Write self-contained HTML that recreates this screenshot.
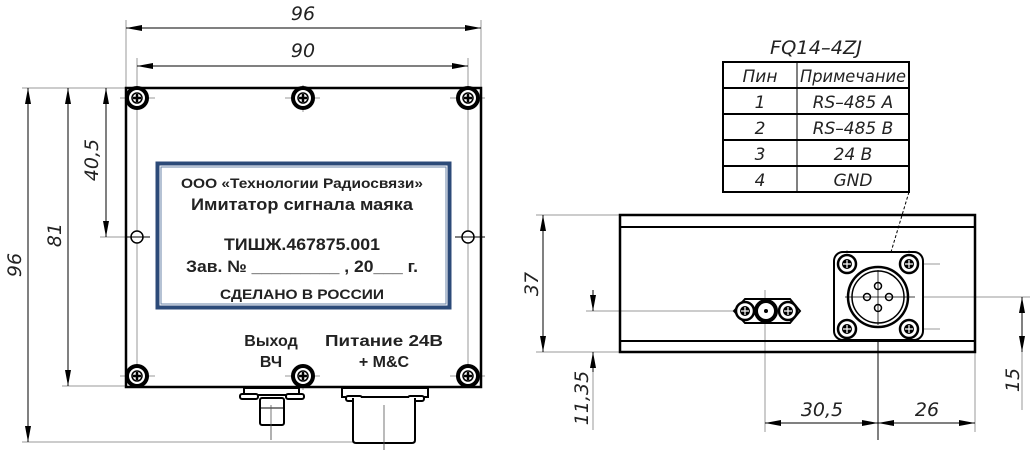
<!DOCTYPE html>
<html><head><meta charset="utf-8"><style>
html,body{margin:0;padding:0;background:#fff;}
svg{display:block;}
.d{font-family:"DejaVu Sans","Liberation Sans",sans-serif;font-style:italic;font-size:19px;fill:#222;font-weight:200}
.t{font-family:"DejaVu Sans","Liberation Sans",sans-serif;font-style:italic;font-size:17px;fill:#222;font-weight:200}
.b{font-family:"Liberation Sans",sans-serif;font-weight:bold;fill:#222;text-anchor:middle}
</style></head><body>
<svg width="1033" height="452" viewBox="0 0 1033 452" xmlns="http://www.w3.org/2000/svg">
<defs>
<g id="scr"><circle r="10" fill="#fff" stroke="#000" stroke-width="4"/><circle r="5" fill="#fff" stroke="#000" stroke-width="1.5"/><path d="M-4 0H4M0 -4V4" stroke="#000" stroke-width="2.5"/></g>
<g id="scr2"><circle r="9" fill="#fff" stroke="#000" stroke-width="2.5"/><circle r="5" fill="#000"/><path d="M-4 0H4M0 -4V4" stroke="#fff" stroke-width="1.2"/></g>
</defs>
<g stroke="#999" stroke-width="1" fill="none">
<path d="M126 20V88M481 20V88M137 58V385M468 58V385"/>
<path d="M22 88H126M62 88H126M22 442H360M62 386H126M100 237H150M455 237H485"/>
<path d="M120 98H155M285 98H320M450 98H485M120 376H155M285 376H320M450 376H485M303 85V112M303 365V390M271 410V440M384 435V450"/>
</g>
<g stroke="#000" stroke-width="1" fill="none">
<path d="M126 28H481M137 66H468M28 88V442M68 88V386M106 88V237"/>
</g>
<g fill="#000">
<path d="M126 28l16-3v6zM481 28l-16-3v6zM137 66l16-3v6zM468 66l-16-3v6z"/>
<path d="M28 88l-3 16h6zM28 442l-3-16h6zM68 88l-3 16h6zM68 386l-3-16h6zM106 88l-3 16h6zM106 237l-3-16h6z"/>
</g>
<text class="d" x="303" y="20" text-anchor="middle">96</text>
<text class="d" x="303" y="57" text-anchor="middle">90</text>
<text class="d" transform="translate(21,265) rotate(-90)" text-anchor="middle">96</text>
<text class="d" transform="translate(61,235) rotate(-90)" text-anchor="middle">81</text>
<text class="d" transform="translate(98,160) rotate(-90)" text-anchor="middle">40,5</text>
<rect x="126" y="88" width="355" height="299" fill="none" stroke="#000" stroke-width="2.5"/>
<use href="#scr" x="137" y="98"/><use href="#scr" x="303" y="98"/><use href="#scr" x="468" y="98"/>
<use href="#scr" x="137" y="376"/><use href="#scr" x="303" y="376"/><use href="#scr" x="468" y="376"/>
<circle cx="137" cy="237" r="6" fill="#fff" stroke="#000" stroke-width="1.5"/>
<circle cx="468" cy="237" r="6" fill="#fff" stroke="#000" stroke-width="1.5"/>
<path d="M125 237H150M455 237H485" stroke="#000" stroke-width="1"/>
<rect x="157.5" y="163.5" width="292" height="144" fill="#fff" stroke="#2c4a78" stroke-width="4"/>
<rect x="161" y="167" width="285" height="137" fill="none" stroke="#6b84a8" stroke-width="1"/>
<text class="b" x="302" y="188" font-size="14" textLength="242" lengthAdjust="spacingAndGlyphs">ООО «Технологии Радиосвязи»</text>
<text class="b" x="302" y="210" font-size="16.5" textLength="222" lengthAdjust="spacingAndGlyphs">Имитатор сигнала маяка</text>
<text class="b" x="302" y="250" font-size="16.5" textLength="156" lengthAdjust="spacingAndGlyphs">ТИШЖ.467875.001</text>
<text class="b" x="302" y="272" font-size="16.5" textLength="232" lengthAdjust="spacingAndGlyphs">Зав. № _________ , 20___ г.</text>
<text class="b" x="302" y="299" font-size="14" textLength="164" lengthAdjust="spacingAndGlyphs">СДЕЛАНО В РОССИИ</text>
<text class="b" x="271" y="346" font-size="16" fill="#333">Выход</text>
<text class="b" x="271" y="367" font-size="16" fill="#333">ВЧ</text>
<text class="b" x="384" y="346" font-size="16" fill="#333" textLength="118" lengthAdjust="spacingAndGlyphs">Питание 24В</text>
<text class="b" x="384" y="367" font-size="16" fill="#333">+ M&amp;C</text>
<g stroke="#000" stroke-width="2" fill="#fff">
<rect x="244" y="388" width="55" height="7"/>
<rect x="240" y="394" width="18" height="5" rx="2"/><rect x="286" y="394" width="18" height="5" rx="2"/>
<rect x="260" y="398" width="24" height="27" rx="2"/>
<path d="M260 408H284" fill="none" stroke-width="1"/>
<rect x="342" y="388" width="86" height="9"/>
<rect x="346" y="396" width="16" height="5" rx="2"/><rect x="408" y="396" width="16" height="5" rx="2"/>
<path d="M353 398V440Q353 443 356 443H412Q415 443 415 440V398"/>
</g>
<path d="M271 405V440M384 405V450" stroke="#555" stroke-width="0.8"/>
<text class="d" x="816" y="54" text-anchor="middle" font-size="22" textLength="92" lengthAdjust="spacingAndGlyphs">FQ14–4ZJ</text>
<g stroke="#000" fill="none">
<rect x="723" y="62" width="186" height="130" stroke-width="2"/>
<path d="M723 88H909M723 114H909M723 140H909M723 166H909" stroke-width="2"/>
<path d="M797 62V192" stroke-width="1"/>
</g>
<g class="t" text-anchor="middle">
<text x="760" y="82">Пин</text><text x="853" y="82" textLength="106" lengthAdjust="spacingAndGlyphs">Примечание</text>
<text x="760" y="108">1</text><text x="853" y="108">RS–485 A</text>
<text x="760" y="134">2</text><text x="853" y="134">RS–485 B</text>
<text x="760" y="160">3</text><text x="853" y="160">24 B</text>
<text x="760" y="186">4</text><text x="853" y="186">GND</text>
</g>
<path d="M909 192L888 262" stroke="#000" stroke-dasharray="3,2" fill="none"/>
<circle cx="888" cy="262" r="1.5" fill="#000"/>
<g stroke="#999" fill="none" stroke-width="1">
<path d="M536 215H620M536 352H620M586 311H800M765 290V432M975 352V432M840 297H1030M1022 297V410M593 360V430M855 264H940M845 329H940M847 250V340M909 250V340"/>
</g>
<path d="M878 255V440" stroke="#000" stroke-width="1"/>
<rect x="620" y="215" width="355" height="137" fill="none" stroke="#000" stroke-width="2.5"/>
<path d="M620 227H975M620 341H975" stroke="#000" stroke-width="2"/>
<rect x="834" y="252" width="89" height="88" rx="9" fill="#fff" stroke="#000" stroke-width="2"/>
<circle cx="878" cy="297" r="30" fill="#fff" stroke="#000" stroke-width="2.5"/>
<circle cx="878" cy="297" r="26" fill="none" stroke="#000" stroke-width="1.5"/>
<g fill="#fff" stroke="#000" stroke-width="1.5">
<circle cx="878" cy="286" r="3.5"/><circle cx="878" cy="308" r="3.5"/><circle cx="867" cy="297" r="3.5"/><circle cx="889" cy="297" r="3.5"/>
</g>
<path d="M845 297H915M878 270V325" stroke="#000" stroke-width="0.8"/>
<use href="#scr2" x="847" y="264"/><use href="#scr2" x="909" y="264"/><use href="#scr2" x="847" y="329"/><use href="#scr2" x="909" y="329"/>
<path d="M745 299H790L800 311L790 323H745L734 311Z" fill="#fff" stroke="#000" stroke-width="2"/>
<use href="#scr2" x="745" y="311"/><use href="#scr2" x="788" y="311"/>
<circle cx="766" cy="311" r="10" fill="#fff" stroke="#000" stroke-width="4"/>
<circle cx="766" cy="311" r="2" fill="#000"/>
<g stroke="#000" stroke-width="1" fill="none">
<path d="M543 215V352M593 290V311M593 352V372M765 423H975M1022 297V352"/>
</g>
<g fill="#000">
<path d="M543 215l-3 16h6zM543 352l-3-16h6zM593 311l-3-16h6zM593 352l-3 16h6z"/>
<path d="M765 423l16-3v6zM878 423l-16-3v6zM878 423l16-3v6zM975 423l-16-3v6z"/>
<path d="M1022 297l-3 16h6zM1022 352l-3-16h6z"/>
</g>
<text class="d" transform="translate(538,284) rotate(-90)" text-anchor="middle">37</text>
<text class="d" transform="translate(588,398) rotate(-90)" text-anchor="middle">11,35</text>
<text class="d" transform="translate(1019,380) rotate(-90)" text-anchor="middle">15</text>
<text class="d" x="822" y="416" text-anchor="middle">30,5</text>
<text class="d" x="927" y="416" text-anchor="middle">26</text>
</svg>
</body></html>
